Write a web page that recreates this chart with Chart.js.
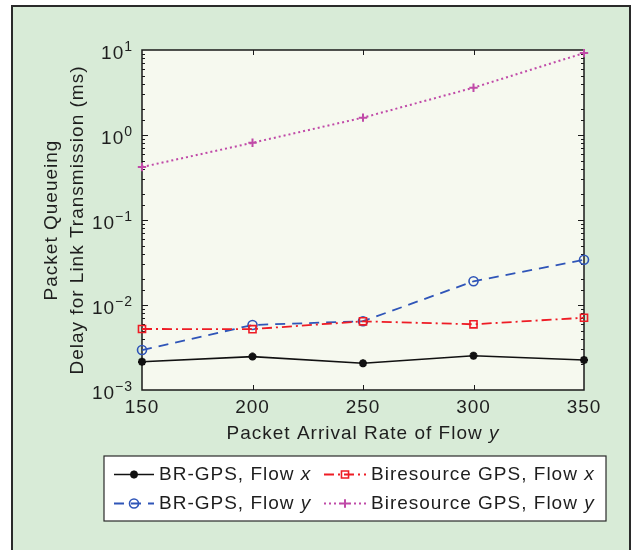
<!DOCTYPE html>
<html>
<head>
<meta charset="utf-8">
<script src="https://cdn.jsdelivr.net/npm/chart.js@4.4.1/dist/chart.umd.min.js"></script>
<style>
  html, body { margin: 0; padding: 0; background: #ffffff; }
  #wrap { width: 635px; height: 550px; position: relative; }
</style>
</head>
<body>
<div id="wrap"><canvas id="c" width="635" height="550"></canvas></div>
<script>
// ---- data ----
const categories = [150, 200, 250, 300, 350];
const brgpsFlowX = [0.00215, 0.00247, 0.00206, 0.00253, 0.00225];
const biresFlowX = [0.00522, 0.00520, 0.00643, 0.00593, 0.00708];
const brgpsFlowY = [0.00295, 0.00582, 0.00645, 0.0190, 0.0340];
const biresFlowY = [0.42, 0.81, 1.60, 3.60, 9.2];
const seriesNames = ['BR-GPS, Flow x', 'Biresource GPS, Flow x', 'BR-GPS, Flow y', 'Biresource GPS, Flow y'];
const yTickValues = [0.001, 0.01, 0.1, 1, 10];
const yTickBase = '10';
const yTickExponents = ['\u22123', '\u22122', '\u22121', '0', '1'];
const xTickLabels = ['150', '200', '250', '300', '350'];
const xTitle = 'Packet Arrival Rate of Flow y';
const yTitle = ['Packet Queueing', 'Delay for Link Transmission (ms)'];

const FONT = '"Liberation Sans", Arial, Helvetica, sans-serif';
const TXT = '#1e1e1e';
const LS = '1px';

function pts(arr) { return categories.map((c, i) => ({ x: c, y: arr[i] })); }

const datasets = [
  { label: seriesNames[0], data: pts(brgpsFlowX), borderColor: '#111111', backgroundColor: '#111111',
    borderWidth: 1.6, borderDash: [], pointStyle: 'star', pointRadius: 4, pointBorderWidth: 2.5 },
  { label: seriesNames[1], data: pts(biresFlowX), borderColor: '#ee1c25', backgroundColor: 'rgba(0,0,0,0)',
    borderWidth: 1.8, borderDash: [10, 4, 2, 4], pointStyle: 'rect', pointRadius: 5, pointBorderWidth: 1.6 },
  { label: seriesNames[2], data: pts(brgpsFlowY), borderColor: '#2f55b8', backgroundColor: 'rgba(0,0,0,0)',
    borderWidth: 1.8, borderDash: [10, 7], pointStyle: 'circle', pointRadius: 4.5, pointBorderWidth: 1.6 },
  { label: seriesNames[3], data: pts(biresFlowY), borderColor: '#c04aa8', backgroundColor: '#c04aa8',
    borderWidth: 2, borderDash: [2, 3], pointStyle: 'cross', pointRadius: 4.2, pointBorderWidth: 2 }
];
datasets.forEach(d => { d.tension = 0; d.fill = false; d.clip = false;
  d.pointBorderColor = d.borderColor; d.pointBackgroundColor = d.backgroundColor; d.pointHoverRadius = d.pointRadius; });

function isMajor(v) { const l = Math.log10(v); return Math.abs(l - Math.round(l)) < 1e-9; }

const decor = {
  id: 'decor',
  beforeDraw(chart) {
    const ctx = chart.ctx, a = chart.chartArea;
    ctx.letterSpacing = LS;
    ctx.save();
    ctx.fillStyle = '#ffffff';
    ctx.fillRect(0, 0, chart.width, chart.height);
    ctx.fillStyle = '#d8ebd7';
    ctx.fillRect(12, 6, 618, 560);
    ctx.strokeStyle = '#2a2a2a';
    ctx.lineWidth = 2;
    ctx.strokeRect(12, 6, 618, 560);
    ctx.fillStyle = '#f6f9ef';
    ctx.fillRect(a.left, a.top, a.right - a.left, a.bottom - a.top);
    ctx.restore();
  },
  beforeDatasetsDraw(chart) {
    const ctx = chart.ctx, a = chart.chartArea;
    const xs = chart.scales.x, ys = chart.scales.y;
    ctx.save();
    ctx.strokeStyle = '#1a1a1a';
    ctx.lineWidth = 1;
    ctx.beginPath();
    ys.ticks.forEach(t => {
      const py = Math.round(ys.getPixelForValue(t.value)) + 0.5;
      if (py <= a.top + 1 || py >= a.bottom - 1) return;
      const len = isMajor(t.value) ? 6 : 3;
      ctx.moveTo(a.left, py); ctx.lineTo(a.left + len, py);
      ctx.moveTo(a.right, py); ctx.lineTo(a.right - len, py);
    });
    xs.ticks.forEach(t => {
      const px = Math.round(xs.getPixelForValue(t.value)) + 0.5;
      if (px <= a.left + 1 || px >= a.right - 1) return;
      ctx.moveTo(px, a.bottom); ctx.lineTo(px, a.bottom - 5);
      ctx.moveTo(px, a.top); ctx.lineTo(px, a.top + 5);
    });
    ctx.stroke();
    ctx.lineWidth = 1.5;
    ctx.strokeRect(a.left, a.top, a.right - a.left, a.bottom - a.top);
    // y tick labels with superscript exponents, placed by the log scale
    ctx.fillStyle = TXT;
    ctx.textBaseline = 'middle';
    ctx.textAlign = 'left';
    yTickValues.forEach((v, i) => {
      const py = ys.getPixelForValue(v);
      ctx.font = '14px ' + FONT;
      const we = ctx.measureText(yTickExponents[i]).width;
      ctx.font = '19px ' + FONT;
      const wb = ctx.measureText(yTickBase).width;
      const right = a.left - 9;
      ctx.fillText(yTickBase, right - we - wb, py + 4);
      ctx.font = '14px ' + FONT;
      ctx.fillText(yTickExponents[i], right - we, py - 3);
    });
    ctx.restore();
  },
  afterDraw(chart) {
    const ctx = chart.ctx, a = chart.chartArea;
    ctx.save();
    drawMixed(ctx, xTitle, (a.left + a.right) / 2, 434, 'center');
    const bx = 104, by = 456, bw = 502, bh = 65;
    ctx.fillStyle = '#ffffff';
    ctx.fillRect(bx, by, bw, bh);
    ctx.strokeStyle = '#2a2a2a';
    ctx.lineWidth = 1.2;
    ctx.strokeRect(bx, by, bw, bh);
    const cells = [
      { ds: 0, x0: 114, x1: 154, tx: 159, y: 474.5 },
      { ds: 1, x0: 324, x1: 366, tx: 371, y: 474.5 },
      { ds: 2, x0: 114, x1: 154, tx: 159, y: 503.5 },
      { ds: 3, x0: 324, x1: 366, tx: 371, y: 503.5 }
    ];
    cells.forEach(c => {
      const d = chart.data.datasets[c.ds];
      ctx.save();
      ctx.strokeStyle = d.borderColor;
      ctx.lineWidth = d.borderWidth;
      ctx.setLineDash(d.borderDash || []);
      ctx.beginPath();
      ctx.moveTo(c.x0, c.y); ctx.lineTo(c.x1, c.y);
      ctx.stroke();
      ctx.setLineDash([]);
      ctx.fillStyle = d.pointBackgroundColor;
      ctx.strokeStyle = d.pointBorderColor;
      ctx.lineWidth = d.pointBorderWidth;
      Chart.helpers.drawPoint(ctx, { pointStyle: d.pointStyle, rotation: 0, radius: d.pointRadius, borderWidth: d.pointBorderWidth },
        (c.x0 + c.x1) / 2, c.y);
      ctx.restore();
      drawMixed(ctx, d.label, c.tx, c.y, 'left');
    });
    ctx.restore();
  }
};

function drawMixed(ctx, text, x, y, align) {
  const idx = text.lastIndexOf(' ');
  const head = text.slice(0, idx + 1), tail = text.slice(idx + 1);
  const nf = '19px ' + FONT, itf = 'italic 19px ' + FONT;
  ctx.save();
  ctx.fillStyle = TXT;
  ctx.textBaseline = 'middle';
  ctx.textAlign = 'left';
  ctx.font = nf; const w1 = ctx.measureText(head).width;
  ctx.font = itf; const w2 = ctx.measureText(tail).width;
  let sx = align === 'center' ? x - (w1 + w2) / 2 : x;
  ctx.font = nf; ctx.fillText(head, sx, y);
  ctx.font = itf; ctx.fillText(tail, sx + w1, y);
  ctx.restore();
}

new Chart(document.getElementById('c'), {
  type: 'line',
  data: { datasets },
  options: {
    responsive: false,
    animation: false,
    layout: { padding: { left: 0, top: 50, right: 51, bottom: 0 } },
    plugins: { legend: { display: false }, tooltip: { enabled: false } },
    scales: {
      x: {
        type: 'linear', min: 150, max: 350,
        afterFit: s => { s.height = 160; },
        afterBuildTicks: s => { s.ticks = categories.map(v => ({ value: v })); },
        grid: { display: false, drawTicks: false }, border: { display: false },
        ticks: {
          autoSkip: false, padding: 6, color: TXT,
          font: { family: FONT, size: 19 },
          callback: (v) => { const i = categories.indexOf(v); return i >= 0 ? xTickLabels[i] : ''; }
        },
        title: { display: false }
      },
      y: {
        type: 'logarithmic', min: 0.001, max: 10,
        afterFit: s => { s.width = 142; },
        grid: { display: false, drawTicks: false }, border: { display: false },
        ticks: { display: false, autoSkip: false },
        title: {
          display: true, text: yTitle, color: TXT,
          font: { family: FONT, size: 19, lineHeight: 1.35 },
          padding: { top: 39, bottom: 0 }
        }
      }
    }
  },
  plugins: [decor]
});
</script>
</body>
</html>
